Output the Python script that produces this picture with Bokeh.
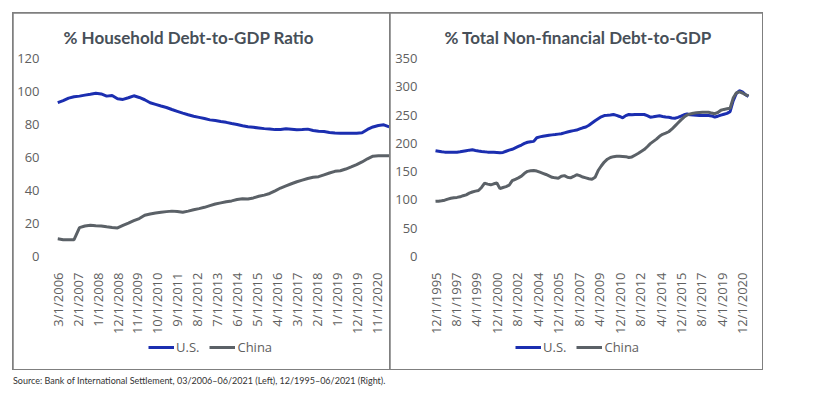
from bokeh.plotting import figure
from bokeh.models import FixedTicker, Legend, LegendItem, Range1d, Div, Spacer
from bokeh.layouts import row, column
from bokeh.embed import file_html
from bokeh.resources import INLINE

# ---------------- data ----------------
# Left: household debt-to-GDP (%), quarterly from 3/2006 to 6/2021
hh_start = (2006, 3)
hh_us = [93.3, 94.5, 96.0, 96.8, 97.2, 97.8, 98.3, 98.9, 98.5, 97.2, 97.6, 95.6, 95.2,
         96.2, 97.4, 96.4, 95.0, 93.2, 92.2, 91.2, 90.3, 89.1, 88.0, 86.9, 85.9, 85.0,
         84.3, 83.6, 82.8, 82.4, 81.8, 81.3, 80.6, 80.0, 79.2, 78.6, 78.3, 77.9, 77.5,
         77.3, 76.9, 77.0, 77.4, 77.1, 76.8, 76.9, 77.2, 76.4, 75.9, 75.7, 75.2, 74.8,
         74.7, 74.7, 74.7, 74.7, 75.0, 77.0, 78.5, 79.4, 79.8, 78.5]
hh_china = [10.7, 10.2, 10.1, 10.2, 17.5, 18.5, 19.0, 18.7, 18.5, 18.0, 17.6, 17.3, 18.8,
            20.2, 21.7, 23.0, 25.0, 25.8, 26.4, 26.8, 27.2, 27.5, 27.3, 26.8, 27.5, 28.3,
            29.0, 29.8, 30.8, 31.8, 32.5, 33.2, 33.7, 34.5, 35.0, 34.8, 35.5, 36.5, 37.2,
            38.2, 39.8, 41.5, 42.8, 44.1, 45.3, 46.3, 47.3, 48.0, 48.4, 49.5, 50.6, 51.6,
            52.0, 53.0, 54.3, 55.7, 57.3, 59.2, 60.8, 61.0, 61.0, 61.0]
hh_xticks = ["3/1/2006", "2/1/2007", "1/1/2008", "12/1/2008", "11/1/2009", "10/1/2010",
             "9/1/2011", "8/1/2012", "7/1/2013", "6/1/2014", "5/1/2015", "4/1/2016",
             "3/1/2017", "2/1/2018", "1/1/2019", "12/1/2019", "11/1/2020"]
hh_yticks = [0, 20, 40, 60, 80, 100, 120]

# Right: total non-financial debt-to-GDP (%), quarterly from 12/1995 to 6/2021
tot_start = (1995, 12)
tot_us = [187, 186, 185, 184.5, 184.4, 184.4, 184.5, 184.4, 185, 186, 187, 188, 188.6,
          187.5, 186.5, 185.6, 185, 184.5, 184.4, 184.4, 184, 183.5, 184, 186, 188, 189.5,
          192, 194.5, 197, 200, 202, 203, 203.5, 210, 211.5, 212.5, 213.5, 214.5, 215,
          215.5, 216.3, 217, 218.5, 220, 221.5, 222.5, 223.5, 225.5, 227.5, 229, 232, 236,
          240, 243.5, 247, 249.2, 249.5, 250, 251, 249.5, 247.5, 245.2, 249, 251, 250.5,
          251, 251, 251, 251, 249, 246.3, 247, 248, 248.7, 247.5, 246.5, 246, 245, 244.5,
          246, 248, 250.5, 252, 250.5, 250, 249.5, 249.2, 249.2, 249.2, 249.2, 248.5, 246.5,
          248, 250, 251.5, 253, 256, 275, 288, 293, 291, 286, 283]
tot_china = [97.5, 97.8, 98.5, 99.5, 101.5, 103, 104, 104.5, 105.5, 107.5, 109, 112, 114,
             115.5, 116.7, 122, 129.5, 128, 126.7, 128.5, 130, 120, 122, 123.5, 126, 134,
             136.5, 139, 142, 147, 150.5, 151.5, 152, 151, 149, 147, 145, 142.5, 140, 139,
             138.5, 142, 143, 140, 139, 141.5, 144.5, 143, 140.5, 139, 137.5, 136.5, 140,
             152, 160, 167, 172, 175, 176.5, 177, 177, 176.8, 176.5, 175, 176, 179, 182,
             185.5, 189, 194, 199.5, 203.5, 207.5, 212.5, 216, 218, 220.5, 225, 230.5, 236,
             241.5, 246.5, 250, 252, 253.3, 254, 254.5, 255, 255, 255, 253.5, 252.5, 254.5,
             258.5, 260, 261, 262, 280, 289, 291, 289, 286, 284]
tot_xticks = ["12/1/1995", "8/1/1997", "4/1/1999", "12/1/2000", "8/1/2002", "4/1/2004",
              "12/1/2005", "8/1/2007", "4/1/2009", "12/1/2010", "8/1/2012", "4/1/2014",
              "12/1/2015", "8/1/2017", "4/1/2019", "12/1/2020"]
tot_yticks = [0, 50, 100, 150, 200, 250, 300, 350]

series_names = ["U.S.", "China"]
titles = ["% Household Debt-to-GDP Ratio", "% Total Non-financial Debt-to-GDP"]
source = "Source: Bank of International Settlement, 03/2006\u201306/2021 (Left), 12/1995\u201306/2021 (Right)."

# ---------------- style ----------------
BLUE = "#1b2eb0"
GRAY = "#5b6167"
TICK = "#606060"
TITLE = "#474f58"
FONT = "Open Sans"

FIG_H = 356
TOP = 45          # frame top below figure top
BOT = 7           # frame bottom above figure bottom
PLOT_PX = 198     # pixels between y = 0 and the top tick


def month_index(label, start):
    m, d, y = [int(v) for v in label.split("/")]
    return (y - start[0]) * 12 + (m - start[1])


def make_panel(title, us, china, start, xticks, yticks, xr, w, mbl, mbr, title_off, leg_x):
    ymax = max(yticks)
    frame_h = FIG_H - TOP - BOT
    ymin = -ymax * (frame_h - PLOT_PX) / PLOT_PX
    p = figure(width=w, height=FIG_H, x_range=Range1d(*xr), y_range=Range1d(ymin, ymax),
               output_backend="svg", toolbar_location=None,
               min_border_left=mbl, min_border_right=mbr, min_border_top=TOP,
               min_border_bottom=BOT, title=title)
    p.styles = {"outline": "2px solid #7f7f7f", "outline-offset": "-1px"}
    p.outline_line_color = None
    p.xgrid.grid_line_color = None
    p.ygrid.grid_line_color = None
    p.background_fill_color = "white"

    p.title.align = "left"
    p.title.offset = title_off
    p.title.text_font = "Lato"
    p.title.text_font_style = "bold"
    p.title.text_font_size = "17px"
    p.title.text_color = TITLE
    p.title.standoff = 22

    xs = [3 * i for i in range(len(us))]
    r_us = p.line(xs, us, line_color=BLUE, line_width=3)
    r_cn = p.line(xs[:len(china)], china, line_color=GRAY, line_width=3)

    tick_pos = [month_index(t, start) for t in xticks]
    p.xaxis.fixed_location = 0
    p.xaxis.ticker = FixedTicker(ticks=tick_pos)
    p.xaxis.major_label_overrides = {pos: lab for pos, lab in zip(tick_pos, xticks)}
    p.xaxis.major_label_orientation = 1.5707963
    p.yaxis.ticker = FixedTicker(ticks=yticks)
    for ax in (p.xaxis, p.yaxis):
        ax.axis_line_color = None
        ax.major_tick_line_color = None
        ax.minor_tick_line_color = None
        ax.major_label_text_font = FONT
        ax.major_label_text_color = TICK
        ax.major_label_text_font_size = "13px"
    p.xaxis.major_label_standoff = 10
    p.yaxis.major_label_standoff = 7

    leg = Legend(items=[LegendItem(label=series_names[0], renderers=[r_us]),
                        LegendItem(label=series_names[1], renderers=[r_cn])],
                 orientation="horizontal", location=(leg_x, 6),
                 glyph_width=26, glyph_height=14, label_height=14, label_standoff=2,
                 spacing=10, padding=0, margin=0, border_line_color=None,
                 background_fill_alpha=0, label_text_font=FONT,
                 label_text_font_size="13px", label_text_color=TICK)
    p.add_layout(leg)
    return p


p1 = make_panel(titles[0], hh_us, hh_china, hh_start, hh_xticks, hh_yticks,
                (-2.9, 183.7), 377, 39, 0, 11, 96)
p2 = make_panel(titles[1], tot_us, tot_china, tot_start, tot_xticks, tot_yticks,
                (-4.9, 309.9), 372, 40, 10, 14, 85)

div = Div(text=source, width=600, height=16, margin=(6, 0, 0, 13),
          styles={"font-family": "Lato", "font-size": "9px", "color": "#333333"})

layout = column(Spacer(height=13), row(Spacer(width=13), p1, p2), div)

open("out.html", "w").write(file_html(layout, INLINE))
